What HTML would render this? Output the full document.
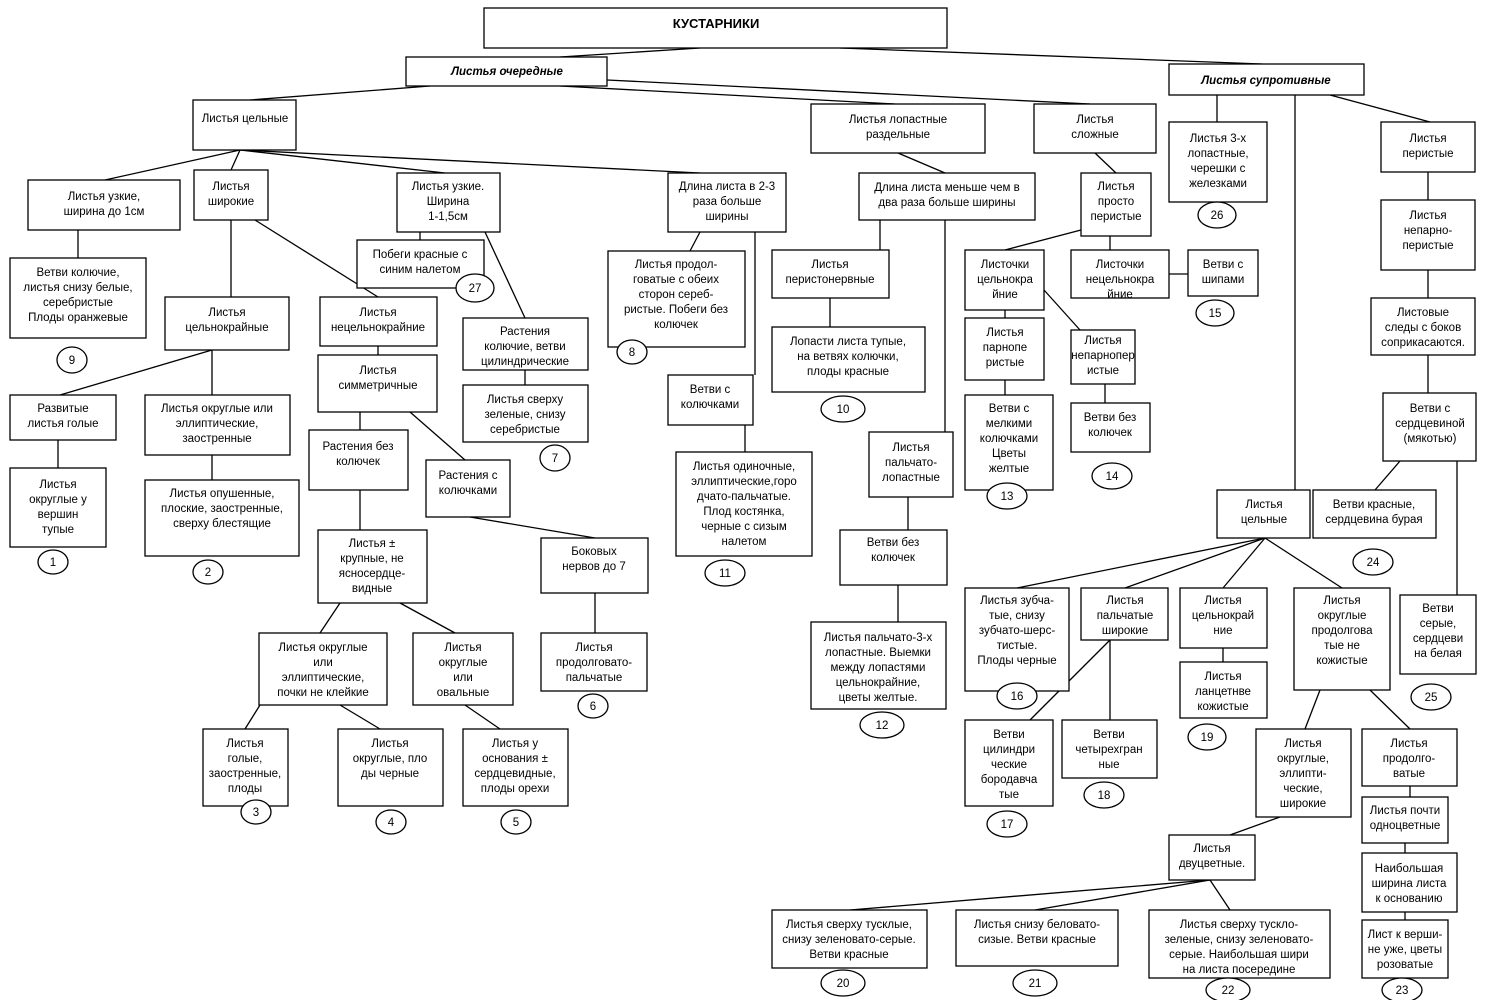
<!DOCTYPE html>
<html><head><meta charset="utf-8"><style>
html,body{margin:0;padding:0;background:#fff;}
svg{display:block;}
rect{fill:#fff;stroke:#000;stroke-width:1.3;}
line{stroke:#000;stroke-width:1.3;}
ellipse{fill:#fff;stroke:#000;stroke-width:1.3;}
text{font-family:"Liberation Sans",sans-serif;font-size:11.5px;fill:#000;text-anchor:middle;}
</style></head><body>
<svg width="1488" height="1000" viewBox="0 0 1488 1000" xmlns="http://www.w3.org/2000/svg">
<line x1="700" y1="48" x2="560" y2="57"/><line x1="840" y1="48" x2="1262" y2="64"/>
<line x1="430" y1="86" x2="250" y2="100"/><line x1="560" y1="86" x2="895" y2="104"/><line x1="607" y1="80" x2="1090" y2="104"/>
<line x1="240" y1="150" x2="105" y2="180"/><line x1="240" y1="150" x2="231" y2="170"/><line x1="240" y1="150" x2="445" y2="173"/><line x1="240" y1="150" x2="700" y2="173"/>
<line x1="898" y1="153" x2="945" y2="173"/><line x1="1095" y1="153" x2="1116" y2="173"/>
<line x1="1217" y1="95" x2="1217" y2="122"/><line x1="1330" y1="95" x2="1430" y2="122"/><line x1="1295" y1="95" x2="1295" y2="490"/>
<line x1="1428" y1="172" x2="1428" y2="200"/><line x1="1428" y1="270" x2="1428" y2="298"/><line x1="1428" y1="355" x2="1428" y2="393"/>
<line x1="1400" y1="461" x2="1375" y2="490"/><line x1="1457" y1="461" x2="1457" y2="595"/>
<line x1="78" y1="230" x2="78" y2="258"/>
<line x1="231" y1="220" x2="231" y2="297"/><line x1="255" y1="220" x2="378" y2="297"/>
<line x1="420" y1="232" x2="420" y2="240"/><line x1="485" y1="232" x2="525" y2="318"/>
<line x1="700" y1="232" x2="690" y2="251"/><line x1="755" y1="232" x2="755" y2="375"/><line x1="745" y1="425" x2="745" y2="452"/>
<line x1="880" y1="220" x2="880" y2="250"/><line x1="945" y1="220" x2="945" y2="432"/>
<line x1="1081" y1="230" x2="1005" y2="250"/><line x1="1110" y1="236" x2="1110" y2="250"/>
<line x1="1005" y1="310" x2="1005" y2="318"/><line x1="1044" y1="290" x2="1080" y2="330"/>
<line x1="1169" y1="274" x2="1188" y2="274"/>
<line x1="1005" y1="380" x2="1005" y2="395"/><line x1="1105" y1="384" x2="1105" y2="403"/>
<line x1="830" y1="298" x2="830" y2="327"/>
<line x1="908" y1="497" x2="908" y2="530"/><line x1="898" y1="585" x2="898" y2="622"/>
<line x1="212" y1="350" x2="60" y2="395"/><line x1="212" y1="350" x2="212" y2="395"/>
<line x1="58" y1="440" x2="58" y2="468"/><line x1="212" y1="455" x2="212" y2="480"/>
<line x1="378" y1="346" x2="378" y2="355"/>
<line x1="360" y1="412" x2="360" y2="430"/><line x1="410" y1="412" x2="465" y2="460"/>
<line x1="525" y1="370" x2="525" y2="385"/>
<line x1="360" y1="490" x2="360" y2="530"/><line x1="470" y1="517" x2="595" y2="538"/>
<line x1="340" y1="603" x2="320" y2="633"/><line x1="400" y1="603" x2="455" y2="633"/>
<line x1="595" y1="593" x2="595" y2="633"/>
<line x1="260" y1="705" x2="245" y2="729"/><line x1="340" y1="705" x2="380" y2="729"/><line x1="465" y1="705" x2="500" y2="729"/>
<line x1="1265" y1="538" x2="1017" y2="588"/><line x1="1265" y1="538" x2="1125" y2="588"/><line x1="1265" y1="538" x2="1223" y2="588"/><line x1="1265" y1="538" x2="1342" y2="588"/>
<line x1="1110" y1="640" x2="1030" y2="720"/><line x1="1110" y1="640" x2="1110" y2="720"/>
<line x1="1223" y1="648" x2="1223" y2="662"/>
<line x1="1320" y1="690" x2="1305" y2="729"/><line x1="1370" y1="690" x2="1410" y2="729"/>
<line x1="1280" y1="817" x2="1230" y2="835"/>
<line x1="1410" y1="786" x2="1410" y2="797"/><line x1="1405" y1="843" x2="1405" y2="853"/><line x1="1405" y1="912" x2="1405" y2="920"/>
<line x1="1210" y1="880" x2="850" y2="910"/><line x1="1210" y1="880" x2="1035" y2="910"/><line x1="1210" y1="880" x2="1230" y2="910"/>

<rect x="484" y="8" width="463" height="40"/><text x="716" y="28" style="font-weight:bold;font-size:13px">КУСТАРНИКИ</text>
<rect x="406" y="57" width="201" height="29"/><text x="507" y="75" style="font-weight:bold;font-style:italic">Листья очередные</text>
<rect x="1169" y="64" width="195" height="31"/><text x="1266" y="84" style="font-weight:bold;font-style:italic">Листья супротивные</text>

<rect x="193" y="100" width="103" height="50"/><text x="245" y="122">Листья цельные</text>
<rect x="811" y="104" width="174" height="49"/><text x="898" y="123">Листья лопастные</text><text x="898" y="138">раздельные</text>
<rect x="1034" y="104" width="122" height="49"/><text x="1095" y="123">Листья</text><text x="1095" y="138">сложные</text>
<rect x="28" y="180" width="152" height="50"/><text x="104" y="200">Листья узкие,</text><text x="104" y="215">ширина до 1см</text>
<rect x="194" y="170" width="74" height="50"/><text x="231" y="190">Листья</text><text x="231" y="205">широкие</text>
<rect x="397" y="173" width="103" height="59"/><text x="448" y="190">Листья узкие.</text><text x="448" y="205">Ширина</text><text x="448" y="220">1-1,5см</text>
<rect x="668" y="173" width="118" height="59"/><text x="727" y="190">Длина листа в 2-3</text><text x="727" y="205">раза больше</text><text x="727" y="220">ширины</text>
<rect x="859" y="173" width="176" height="47"/><text x="947" y="191">Длина листа меньше чем в</text><text x="947" y="206">два раза больше ширины</text>
<rect x="1081" y="173" width="70" height="63"/><text x="1116" y="190">Листья</text><text x="1116" y="205">просто</text><text x="1116" y="220">перистые</text>
<rect x="1169" y="122" width="98" height="80"/><text x="1218" y="142">Листья 3-х</text><text x="1218" y="157">лопастные,</text><text x="1218" y="172">черешки с</text><text x="1218" y="187">железками</text>
<rect x="1381" y="122" width="94" height="50"/><text x="1428" y="142">Листья</text><text x="1428" y="157">перистые</text>
<rect x="10" y="258" width="136" height="80"/><text x="78" y="276">Ветви колючие,</text><text x="78" y="291">листья снизу белые,</text><text x="78" y="306">серебристые</text><text x="78" y="321">Плоды оранжевые</text>
<rect x="357" y="240" width="127" height="48"/><text x="420" y="258">Побеги красные с</text><text x="420" y="273">синим налетом</text>
<rect x="608" y="251" width="137" height="96"/><text x="676" y="268">Листья продол-</text><text x="676" y="283">говатые с обеих</text><text x="676" y="298">сторон сереб-</text><text x="676" y="313">ристые. Побеги без</text><text x="676" y="328">колючек</text>
<rect x="772" y="250" width="117" height="48"/><text x="830" y="268">Листья</text><text x="830" y="283">перистонервные</text>
<rect x="965" y="250" width="79" height="60"/><text x="1005" y="268">Листочки</text><text x="1005" y="283">цельнокра</text><text x="1005" y="298">йние</text>
<rect x="1071" y="250" width="98" height="48"/><text x="1120" y="268">Листочки</text><text x="1120" y="283">нецельнокра</text><text x="1120" y="298">йние</text>
<rect x="1188" y="250" width="70" height="46"/><text x="1223" y="268">Ветви с</text><text x="1223" y="283">шипами</text>
<rect x="1381" y="200" width="94" height="70"/><text x="1428" y="219">Листья</text><text x="1428" y="234">непарно-</text><text x="1428" y="249">перистые</text>
<rect x="165" y="297" width="124" height="53"/><text x="227" y="316">Листья</text><text x="227" y="331">цельнокрайные</text>
<rect x="320" y="297" width="117" height="49"/><text x="378" y="316">Листья</text><text x="378" y="331">нецельнокрайние</text>
<rect x="463" y="318" width="125" height="52"/><text x="525" y="335">Растения</text><text x="525" y="350">колючие, ветви</text><text x="525" y="365">цилиндрические</text>
<rect x="318" y="355" width="119" height="57"/><text x="378" y="374">Листья</text><text x="378" y="389">симметричные</text>
<rect x="10" y="395" width="106" height="45"/><text x="63" y="412">Развитые</text><text x="63" y="427">листья голые</text>
<rect x="145" y="395" width="145" height="60"/><text x="217" y="412">Листья округлые или</text><text x="217" y="427">эллиптические,</text><text x="217" y="442">заостренные</text>
<rect x="463" y="385" width="125" height="57"/><text x="525" y="403">Листья сверху</text><text x="525" y="418">зеленые, снизу</text><text x="525" y="433">серебристые</text>
<rect x="668" y="375" width="85" height="50"/><text x="710" y="393">Ветви с</text><text x="710" y="408">колючками</text>
<rect x="772" y="327" width="153" height="65"/><text x="848" y="345">Лопасти листа тупые,</text><text x="848" y="360">на ветвях колючки,</text><text x="848" y="375">плоды красные</text>
<rect x="965" y="318" width="79" height="62"/><text x="1005" y="336">Листья</text><text x="1005" y="351">парнопе</text><text x="1005" y="366">ристые</text>
<rect x="1071" y="330" width="64" height="54"/><text x="1103" y="344">Листья</text><text x="1103" y="359">непарнопер</text><text x="1103" y="374">истые</text>
<rect x="1371" y="298" width="104" height="57"/><text x="1423" y="316">Листовые</text><text x="1423" y="331">следы с боков</text><text x="1423" y="346">соприкасаются.</text>
<rect x="309" y="430" width="99" height="60"/><text x="358" y="450">Растения без</text><text x="358" y="465">колючек</text>
<rect x="426" y="460" width="84" height="57"/><text x="468" y="479">Растения с</text><text x="468" y="494">колючками</text>
<rect x="965" y="395" width="88" height="95"/><text x="1009" y="412">Ветви с</text><text x="1009" y="427">мелкими</text><text x="1009" y="442">колючками</text><text x="1009" y="457">Цветы</text><text x="1009" y="472">желтые</text>
<rect x="1071" y="403" width="79" height="49"/><text x="1110" y="421">Ветви без</text><text x="1110" y="436">колючек</text>
<rect x="869" y="432" width="84" height="65"/><text x="911" y="451">Листья</text><text x="911" y="466">пальчато-</text><text x="911" y="481">лопастные</text>
<rect x="1383" y="393" width="93" height="68"/><text x="1430" y="412">Ветви с</text><text x="1430" y="427">сердцевиной</text><text x="1430" y="442">(мякотью)</text>
<rect x="10" y="468" width="96" height="79"/><text x="58" y="488">Листья</text><text x="58" y="503">округлые у</text><text x="58" y="518">вершин</text><text x="58" y="533">тупые</text>
<rect x="145" y="480" width="154" height="76"/><text x="222" y="497">Листья опушенные,</text><text x="222" y="512">плоские, заостренные,</text><text x="222" y="527">сверху блестящие</text>
<rect x="676" y="452" width="136" height="104"/><text x="744" y="470">Листья одиночные,</text><text x="744" y="485">эллиптические,горо</text><text x="744" y="500">дчато-пальчатые.</text><text x="744" y="515">Плод костянка,</text><text x="744" y="530">черные с сизым</text><text x="744" y="545">налетом</text>
<rect x="1217" y="490" width="93" height="48"/><text x="1264" y="508">Листья</text><text x="1264" y="523">цельные</text>
<rect x="1313" y="490" width="123" height="48"/><text x="1374" y="508">Ветви красные,</text><text x="1374" y="523">сердцевина бурая</text>
<rect x="318" y="530" width="109" height="73"/><text x="372" y="547">Листья ±</text><text x="372" y="562">крупные, не</text><text x="372" y="577">ясносердце-</text><text x="372" y="592">видные</text>
<rect x="541" y="538" width="107" height="55"/><text x="594" y="555">Боковых</text><text x="594" y="570">нервов до 7</text>
<rect x="840" y="530" width="107" height="55"/><text x="893" y="546">Ветви без</text><text x="893" y="561">колючек</text>
<rect x="965" y="588" width="104" height="103"/><text x="1017" y="604">Листья зубча-</text><text x="1017" y="619">тые, снизу</text><text x="1017" y="634">зубчато-шерс-</text><text x="1017" y="649">тистые.</text><text x="1017" y="664">Плоды черные</text>
<rect x="1081" y="588" width="87" height="52"/><text x="1125" y="604">Листья</text><text x="1125" y="619">пальчатые</text><text x="1125" y="634">широкие</text>
<rect x="1180" y="588" width="87" height="60"/><text x="1223" y="604">Листья</text><text x="1223" y="619">цельнокрай</text><text x="1223" y="634">ние</text>
<rect x="1294" y="588" width="96" height="102"/><text x="1342" y="604">Листья</text><text x="1342" y="619">округлые</text><text x="1342" y="634">продолгова</text><text x="1342" y="649">тые не</text><text x="1342" y="664">кожистые</text>
<rect x="1400" y="595" width="76" height="79"/><text x="1438" y="612">Ветви</text><text x="1438" y="627">серые,</text><text x="1438" y="642">сердцеви</text><text x="1438" y="657">на белая</text>
<rect x="811" y="622" width="135" height="87"/><text x="878" y="641">Листья пальчато-3-х</text><text x="878" y="656">лопастные. Выемки</text><text x="878" y="671">между лопастями</text><text x="878" y="686">цельнокрайние,</text><text x="878" y="701">цветы желтые.</text>
<rect x="259" y="633" width="128" height="72"/><text x="323" y="651">Листья округлые</text><text x="323" y="666">или</text><text x="323" y="681">эллиптические,</text><text x="323" y="696">почки не клейкие</text>
<rect x="413" y="633" width="100" height="72"/><text x="463" y="651">Листья</text><text x="463" y="666">округлые</text><text x="463" y="681">или</text><text x="463" y="696">овальные</text>
<rect x="541" y="633" width="106" height="58"/><text x="594" y="651">Листья</text><text x="594" y="666">продолговато-</text><text x="594" y="681">пальчатые</text>
<rect x="1180" y="662" width="87" height="56"/><text x="1223" y="680">Листья</text><text x="1223" y="695">ланцетнве</text><text x="1223" y="710">кожистые</text>
<rect x="203" y="729" width="85" height="77"/><text x="245" y="747">Листья</text><text x="245" y="762">голые,</text><text x="245" y="777">заостренные,</text><text x="245" y="792">плоды</text>
<rect x="338" y="729" width="105" height="77"/><text x="390" y="747">Листья</text><text x="390" y="762">округлые, пло</text><text x="390" y="777">ды черные</text>
<rect x="463" y="729" width="105" height="77"/><text x="515" y="747">Листья у</text><text x="515" y="762">основания ±</text><text x="515" y="777">сердцевидные,</text><text x="515" y="792">плоды орехи</text>
<rect x="965" y="720" width="88" height="86"/><text x="1009" y="738">Ветви</text><text x="1009" y="753">цилиндри</text><text x="1009" y="768">ческие</text><text x="1009" y="783">бородавча</text><text x="1009" y="798">тые</text>
<rect x="1062" y="720" width="95" height="58"/><text x="1109" y="738">Ветви</text><text x="1109" y="753">четырехгран</text><text x="1109" y="768">ные</text>
<rect x="1256" y="729" width="95" height="88"/><text x="1303" y="747">Листья</text><text x="1303" y="762">округлые,</text><text x="1303" y="777">эллипти-</text><text x="1303" y="792">ческие,</text><text x="1303" y="807">широкие</text>
<rect x="1362" y="729" width="95" height="57"/><text x="1409" y="747">Листья</text><text x="1409" y="762">продолго-</text><text x="1409" y="777">ватые</text>
<rect x="1362" y="797" width="86" height="46"/><text x="1405" y="814">Листья почти</text><text x="1405" y="829">одноцветные</text>
<rect x="1169" y="835" width="86" height="45"/><text x="1212" y="852">Листья</text><text x="1212" y="867">двуцветные.</text>
<rect x="1362" y="853" width="95" height="59"/><text x="1409" y="872">Наибольшая</text><text x="1409" y="887">ширина листа</text><text x="1409" y="902">к основанию</text>
<rect x="772" y="910" width="155" height="58"/><text x="849" y="928">Листья сверху тусклые,</text><text x="849" y="943">снизу зеленовато-серые.</text><text x="849" y="958">Ветви красные</text>
<rect x="956" y="910" width="162" height="56"/><text x="1037" y="928">Листья снизу беловато-</text><text x="1037" y="943">сизые. Ветви красные</text>
<rect x="1149" y="910" width="181" height="68"/><text x="1239" y="928">Листья сверху тускло-</text><text x="1239" y="943">зеленые, снизу зеленовато-</text><text x="1239" y="958">серые. Наибольшая шири</text><text x="1239" y="973">на листа посередине</text>
<rect x="1362" y="920" width="86" height="58"/><text x="1405" y="938">Лист к верши-</text><text x="1405" y="953">не уже, цветы</text><text x="1405" y="968">розоватые</text>

<g>
<ellipse cx="1217" cy="215" rx="19" ry="13"/><text x="1217" y="219">26</text>
<ellipse cx="72" cy="360" rx="15" ry="13"/><text x="72" y="364">9</text>
<ellipse cx="475" cy="288" rx="19" ry="14"/><text x="475" y="292">27</text>
<ellipse cx="632" cy="352" rx="15" ry="12"/><text x="632" y="356">8</text>
<ellipse cx="1215" cy="313" rx="19" ry="13"/><text x="1215" y="317">15</text>
<ellipse cx="555" cy="458" rx="15" ry="13"/><text x="555" y="462">7</text>
<ellipse cx="843" cy="409" rx="22" ry="13"/><text x="843" y="413">10</text>
<ellipse cx="1007" cy="496" rx="20" ry="13"/><text x="1007" y="500">13</text>
<ellipse cx="1112" cy="476" rx="20" ry="13"/><text x="1112" y="480">14</text>
<ellipse cx="53" cy="562" rx="15" ry="12"/><text x="53" y="566">1</text>
<ellipse cx="208" cy="572" rx="15" ry="12"/><text x="208" y="576">2</text>
<ellipse cx="725" cy="573" rx="20" ry="13"/><text x="725" y="577">11</text>
<ellipse cx="1373" cy="562" rx="20" ry="13"/><text x="1373" y="566">24</text>
<ellipse cx="1017" cy="696" rx="20" ry="13"/><text x="1017" y="700">16</text>
<ellipse cx="1431" cy="697" rx="20" ry="13"/><text x="1431" y="701">25</text>
<ellipse cx="882" cy="725" rx="22" ry="13"/><text x="882" y="729">12</text>
<ellipse cx="593" cy="706" rx="15" ry="12"/><text x="593" y="710">6</text>
<ellipse cx="1207" cy="737" rx="19" ry="13"/><text x="1207" y="741">19</text>
<ellipse cx="256" cy="812" rx="15" ry="12"/><text x="256" y="816">3</text>
<ellipse cx="391" cy="822" rx="15" ry="12"/><text x="391" y="826">4</text>
<ellipse cx="516" cy="822" rx="15" ry="12"/><text x="516" y="826">5</text>
<ellipse cx="1007" cy="824" rx="20" ry="13"/><text x="1007" y="828">17</text>
<ellipse cx="1104" cy="795" rx="20" ry="13"/><text x="1104" y="799">18</text>
<ellipse cx="843" cy="983" rx="22" ry="13"/><text x="843" y="987">20</text>
<ellipse cx="1035" cy="983" rx="22" ry="13"/><text x="1035" y="987">21</text>
<ellipse cx="1228" cy="990" rx="22" ry="12"/><text x="1228" y="994">22</text>
<ellipse cx="1402" cy="990" rx="20" ry="12"/><text x="1402" y="994">23</text>
</g>
</svg>
</body></html>
